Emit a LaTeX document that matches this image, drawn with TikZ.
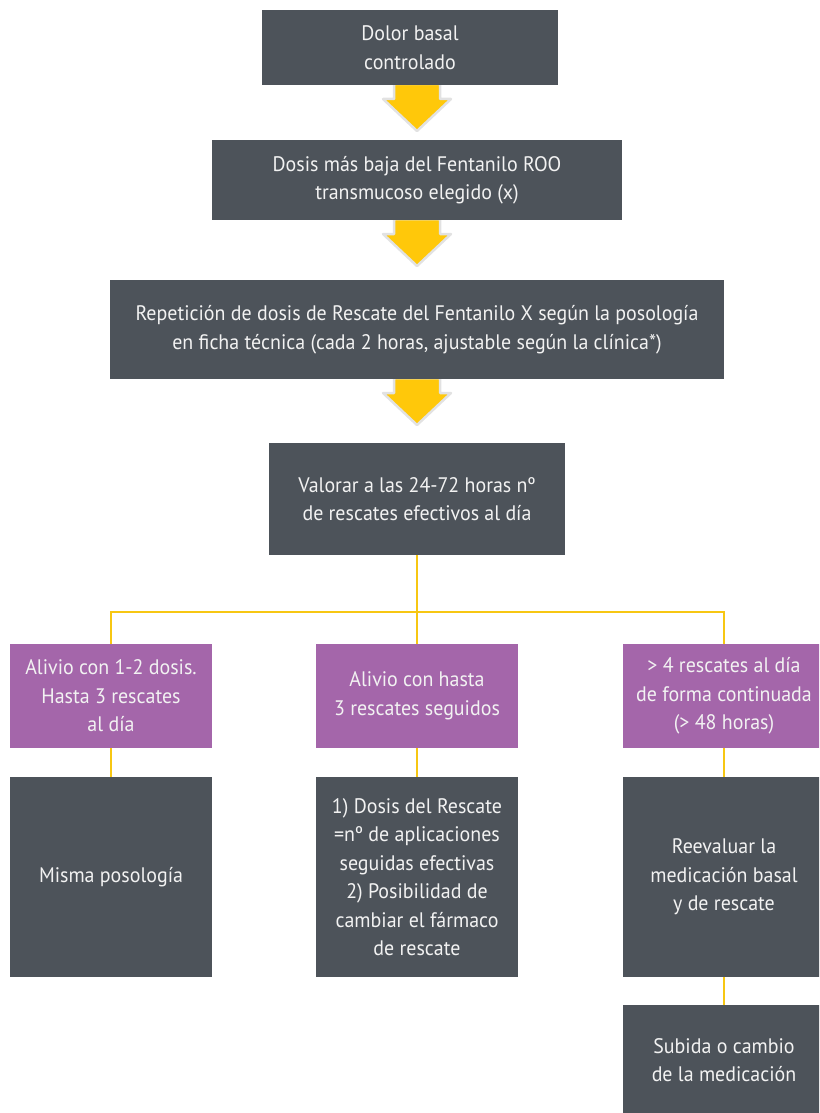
\documentclass[tikz,border=0pt]{standalone}
\usepackage{fontspec}
\setmainfont{PT Sans}[FakeStretch=0.95]
\usetikzlibrary{positioning}
\definecolor{boxgrey}{HTML}{4D535A}
\definecolor{boxpurple}{HTML}{A466AA}
\definecolor{arrowyellow}{HTML}{FFC80A}
\definecolor{arrowrim}{HTML}{E2E2E2}
\definecolor{linkyellow}{HTML}{F7C713}
\definecolor{boxtext}{HTML}{F2F2F2}
\tikzset{
  x=1pt, y=-1pt,
  flowbox/.style={fill=boxgrey, text=boxtext, align=center, inner sep=0pt,
    font=\fontsize{21}{28.5}\selectfont},
  pickbox/.style={flowbox, fill=boxpurple},
  link/.style={draw=linkyellow, line width=2.2pt},
}
\newcommand{\fatarrow}[2]{%
  % yellow block arrow pointing down, top centre at (#1,#2)
  \draw[arrowrim, line width=2.5pt, fill=arrowyellow, line join=round]
    (#1-23,#2) -- (#1+23,#2) -- (#1+23,#2+15) -- (#1+34,#2+15)
    -- (#1,#2+47) -- (#1-34,#2+15) -- (#1-23,#2+15) -- cycle;}
\begin{document}
\begin{tikzpicture}
\useasboundingbox (0,0) rectangle (819,1113);
\begin{scope}
\clip (0,0) rectangle (819,1113);
% arrows between the top boxes
\fatarrow{417}{84}
\fatarrow{417}{219}
\fatarrow{417}{378}
% main column
\node[flowbox, minimum width=296pt, minimum height=75pt] (basal) at (410,47.5)
  {Dolor basal\\controlado};
\node[flowbox, minimum width=410pt, minimum height=80pt] (dosis) at (417,180)
  {Dosis más baja del Fentanilo ROO\\transmucoso elegido (x)};
\node[flowbox, minimum width=614pt, minimum height=99pt] (repe) at (417,329.5)
  {Repetición de dosis de Rescate del Fentanilo X según la posología\\en ficha técnica (cada 2 horas, ajustable según la clínica*)};
\node[flowbox, minimum width=296pt, minimum height=112pt] (valor) at (417,499)
  {Valorar a las 24-72 horas nº\\de rescates efectivos al día};
% three options
\node[pickbox, minimum width=202pt, minimum height=104pt] (optA) at (111,696)
  {Alivio con 1-2 dosis.\\Hasta 3 rescates\\al día};
\node[pickbox, minimum width=202pt, minimum height=104pt] (optB) at (417,696)
  {Alivio con hasta\\3 rescates seguidos};
\node[pickbox, minimum width=202pt, minimum height=104pt] (optC) at (724,696)
  {> 4 rescates al día\\de forma continuada\\(> 48 horas)};
% outcomes
\node[flowbox, minimum width=202pt, minimum height=200pt] (resA) at (111,877)
  {Misma posología};
\node[flowbox, minimum width=202pt, minimum height=200pt] (resB) at (417,877)
  {1) Dosis del Rescate\\=nº de aplicaciones\\seguidas efectivas\\2) Posibilidad de\\cambiar el fármaco\\de rescate};
\node[flowbox, minimum width=202pt, minimum height=200pt] (resC) at (724,877)
  {Reevaluar la\\medicación basal\\y de rescate};
\node[flowbox, minimum width=202pt, minimum height=110pt] (final) at (724,1060)
  {Subida o cambio\\de la medicación};
% connectors
\coordinate (split) at (valor.south |- 0,612);
\draw[link] (valor.south) -- (optB.north);
\draw[link] (optA.north) |- (split) -| (optC.north);
\draw[link] (optA.south) -- (resA.north);
\draw[link] (optB.south) -- (resB.north);
\draw[link] (optC.south) -- (resC.north);
\draw[link] (resC.south) -- (final.north);
\end{scope}
\end{tikzpicture}
\end{document}
